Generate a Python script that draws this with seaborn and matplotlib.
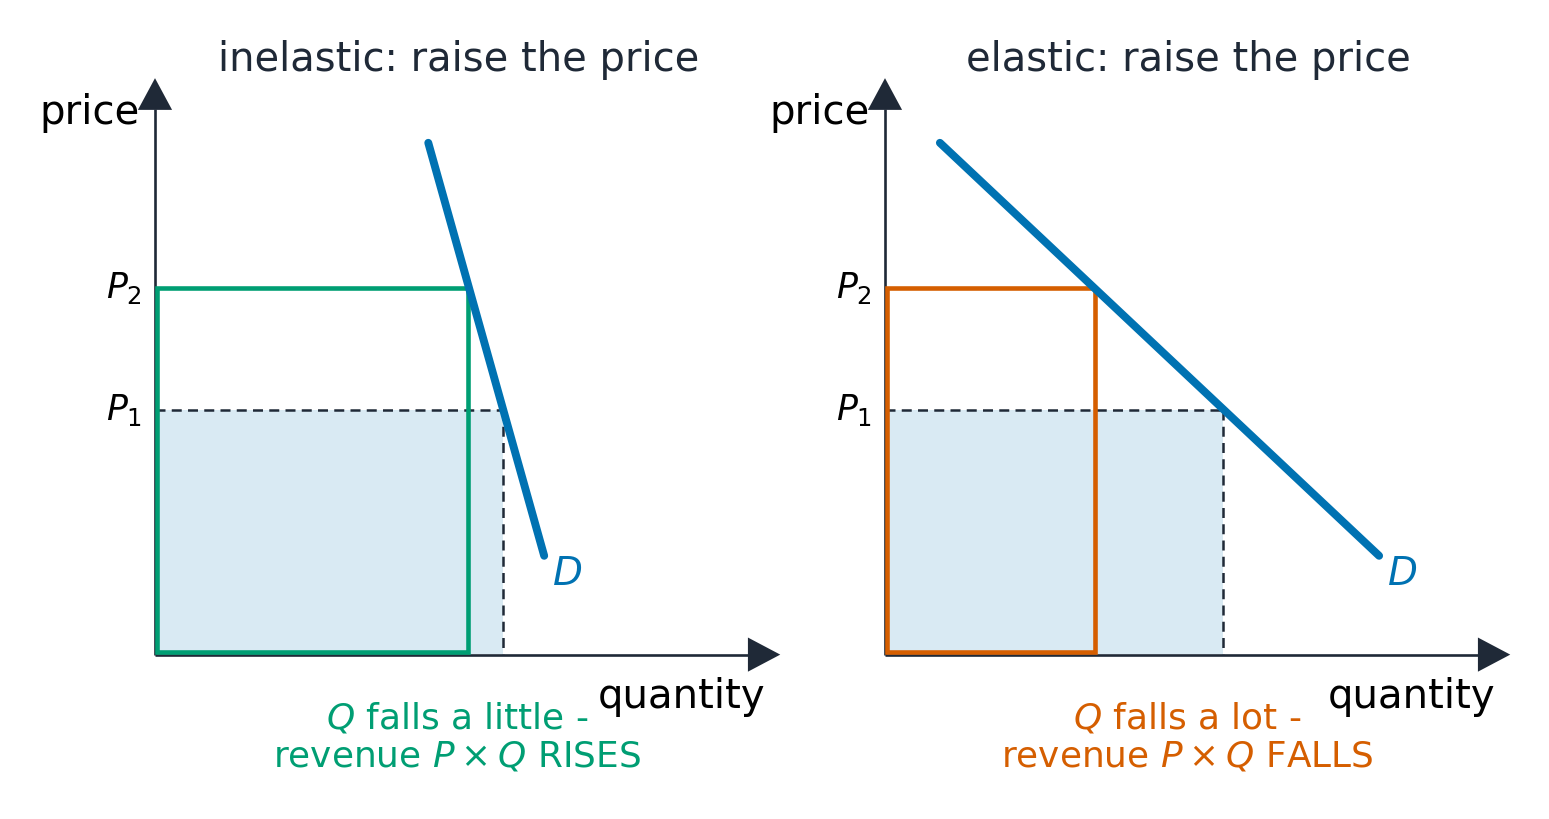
import matplotlib
matplotlib.use("Agg")
import matplotlib.pyplot as plt
import seaborn as sns
import pandas as pd
from matplotlib.patches import Rectangle, Polygon

# ---- data ----
titles = ["inelastic: raise the price", "elastic: raise the price"]
p1 = 4.0
p2 = 6.0
demand_q = [[4.48, 6.38], [0.90, 8.10]]
demand_p = [[8.38, 1.61], [8.38, 1.61]]
q1 = [5.70, 5.54]
q2 = [5.13, 3.44]
rect_colors = ["#009E73", "#D55E00"]
notes = ["$Q$ falls a little -\nrevenue $P\\times Q$ RISES",
         "$Q$ falls a lot -\nrevenue $P\\times Q$ FALLS"]

# ---- style ----
sns.set_theme(style="white")
plt.rcParams['font.family'] = ['DejaVu Sans']
plt.rcParams['mathtext.fontset'] = 'dejavusans'

AX = "#1f2937"
BLUE = "#0072B2"
W, H = 1549, 819
u = 61.0  # pixels per data unit

fig = plt.figure(figsize=(W / 100, H / 100), dpi=100)

for i, ox in enumerate([155, 885]):
    oy = 654
    left = ox - 0.5 * u
    bottom = H - (oy + 0.5 * u)
    ax = fig.add_axes([left / W, bottom / H, 11 * u / W, 10.1 * u / H])

    # shaded revenue at P1
    ax.add_patch(Rectangle((0, 0), q1[i], p1, facecolor=BLUE, alpha=0.15,
                           edgecolor='none', zorder=1))
    # dashed guides
    ax.plot([0, q1[i]], [p1, p1], color=AX, lw=1.8, dashes=(4, 2.5), zorder=2)
    ax.plot([q1[i], q1[i]], [p1, 0], color=AX, lw=1.8, dashes=(4, 2.5), zorder=2)

    # axes with arrows
    ax.plot([0, 0], [-0.01, 8.93], color=AX, lw=1.9, zorder=3, solid_capstyle='butt')
    ax.plot([0, 9.72], [-0.01, -0.01], color=AX, lw=1.9, zorder=3, solid_capstyle='butt')
    ax.add_patch(Polygon([(-0.28, 8.92), (0.28, 8.92), (0, 9.44)], closed=True,
                         facecolor=AX, edgecolor='none', zorder=3, clip_on=False))
    ax.add_patch(Polygon([(9.72, -0.29), (9.72, 0.27), (10.25, -0.01)], closed=True,
                         facecolor=AX, edgecolor='none', zorder=3, clip_on=False))

    # revenue rectangle at P2
    ax.add_patch(Rectangle((0.035, 0.035), q2[i] - 0.035, p2 - 0.035, fill=False,
                           edgecolor=rect_colors[i], lw=3.3, zorder=4,
                           joinstyle='miter'))

    # demand curve
    df = pd.DataFrame({"q": demand_q[i], "p": demand_p[i]})
    sns.lineplot(data=df, x="q", y="p", ax=ax, color=BLUE, lw=5.7,
                 solid_capstyle='round', sort=False, zorder=5)
    ax.set_xlim(-0.5, 10.5)
    ax.set_ylim(-0.5, 9.6)
    ax.axis('off')

    ax.text(demand_q[i][1] + 0.13, demand_p[i][1] - 0.30, "$D$", color=BLUE,
            fontsize=28, ha='left', va='center')

    # labels
    ax.text(-0.245, 8.87, "price", fontsize=29, color='black',
            ha='right', va='center')
    ax.text(10.01, -0.70, "quantity", fontsize=29, color='black',
            ha='right', va='center')
    ax.text(4.98, 9.74, titles[i], fontsize=28.8, color=AX,
            ha='center', va='center')
    ax.text(-0.21, p2, "$P_2$", fontsize=25, color='black',
            ha='right', va='center')
    ax.text(-0.21, p1, "$P_1$", fontsize=25, color='black',
            ha='right', va='center')
    ax.text(4.95, -1.36, notes[i], fontsize=25.8, color=rect_colors[i],
            ha='center', va='center', linespacing=1.16)

fig.savefig("out.png", dpi=100)
